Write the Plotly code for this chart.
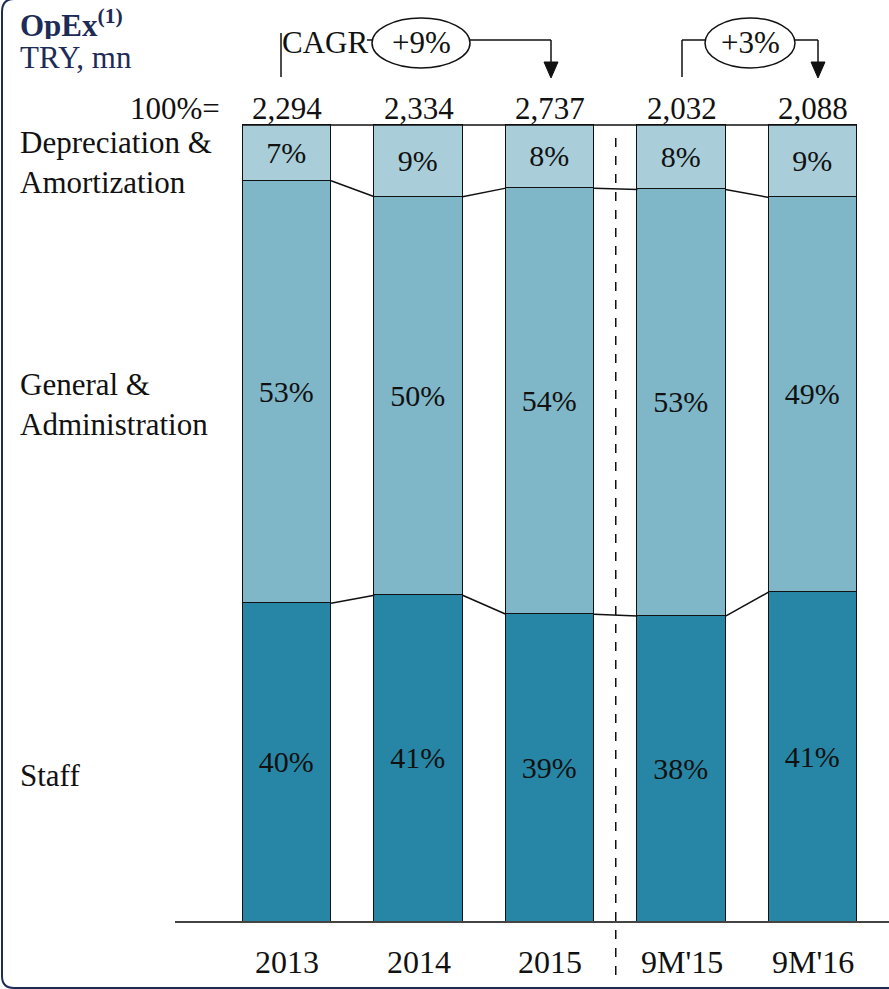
import plotly.graph_objects as go

# ---- data -------------------------------------------------------------
periods = ["2013", "2014", "2015", "9M'15", "9M'16"]
totals = ["2,294", "2,334", "2,737", "2,032", "2,088"]
staff = [40, 41, 39, 38, 41]
general_admin = [53, 50, 54, 53, 49]
dep_amort = [7, 9, 8, 8, 9]
cagr_labels = ["+9%", "+3%"]

# ---- styling ------------------------------------------------------------
W, H = 889, 989
FONT = "Liberation Serif"
NAVY = "#1d2b57"
C_STAFF = "#2786a5"
C_GA = "#7fb7c8"
C_DA = "#a9ced9"
BAR_W = 0.67
FS = 31          # labels
FS_BAR = 30      # values inside the bars

# pixel geometry of the plotting frame
X0_PX, X_STEP = 287.0, 131.5      # centre of first bar, spacing
Y0_PX, Y100_PX = 922.0, 125.0     # baseline and 100% line
ys = (Y0_PX - Y100_PX) / 100.0
x_range = [-X0_PX / X_STEP, (W - X0_PX) / X_STEP]
y_range = [-(H - Y0_PX) / ys, 100 + Y100_PX / ys]


def px(x):
    return x / W


def py(y):
    return 1 - y / H


xs = list(range(len(periods)))

fig = go.Figure()
for name, vals, col in [("Staff", staff, C_STAFF),
                        ("General & Administration", general_admin, C_GA),
                        ("Depreciation & Amortization", dep_amort, C_DA)]:
    fig.add_trace(go.Bar(
        x=xs, y=vals, name=name, width=BAR_W,
        marker=dict(color=col, line=dict(color="#111111", width=1.5)),
        text=[f"{v}%" for v in vals], textposition="inside",
        insidetextanchor="middle", textangle=0,
        textfont=dict(family=FONT, size=FS_BAR, color="#111111"),
        showlegend=False, hoverinfo="skip",
    ))

# connector lines between segment boundaries (normalised shares)
sums = [a + b + c for a, b, c in zip(staff, general_admin, dep_amort)]
b1 = [s / t * 100 for s, t in zip(staff, sums)]
b2 = [(s + g) / t * 100 for s, g, t in zip(staff, general_admin, sums)]
shapes = []
for bound in (b1, b2):
    for i in range(len(xs) - 1):
        shapes.append(dict(type="line", xref="x", yref="y",
                           x0=xs[i] + BAR_W / 2, x1=xs[i + 1] - BAR_W / 2,
                           y0=bound[i], y1=bound[i + 1],
                           line=dict(color="#111111", width=1.5)))

# 100% line across the top of the bars
shapes.append(dict(type="line", xref="x", yref="y",
                   x0=xs[0] - BAR_W / 2, x1=xs[-1] + BAR_W / 2, y0=100, y1=100,
                   line=dict(color="#111111", width=1.5)))
# baseline
shapes.append(dict(type="line", xref="paper", yref="y", x0=px(175), x1=1,
                   y0=0, y1=0, line=dict(color="#444444", width=2)))
# dashed separator between full years and nine-month periods
shapes.append(dict(type="line", xref="x", yref="paper", x0=2.5, x1=2.5,
                   y0=py(975), y1=py(130),
                   line=dict(color="#111111", width=1.5, dash="dash")))

# CAGR brackets
LINE = dict(color="#111111", width=1.5)
ARROW_Y = 40


def bracket(x_start_px, x_end_px, ell_x0, ell_x1, start_top):
    out = []
    out.append(dict(type="line", xref="paper", yref="paper",
                    x0=px(x_start_px), x1=px(x_start_px), y0=py(77), y1=py(start_top), line=LINE))
    out.append(dict(type="line", xref="paper", yref="paper",
                    x0=px(ell_x1), x1=px(x_end_px), y0=py(ARROW_Y), y1=py(ARROW_Y), line=LINE))
    out.append(dict(type="line", xref="paper", yref="paper",
                    x0=px(x_end_px), x1=px(x_end_px), y0=py(ARROW_Y), y1=py(63), line=LINE))
    out.append(dict(type="path", xref="paper", yref="paper",
                    path=f"M {px(x_end_px - 7)},{py(62)} L {px(x_end_px + 7)},{py(62)} L {px(x_end_px)},{py(78)} Z",
                    fillcolor="#111111", line=dict(color="#111111", width=1)))
    out.append(dict(type="circle", xref="paper", yref="paper",
                    x0=px(ell_x0), x1=px(ell_x1), y0=py(68), y1=py(18),
                    fillcolor="white", line=LINE))
    return out


shapes += bracket(281, 551, 372, 470, 33)
shapes.append(dict(type="line", xref="paper", yref="paper",
                   x0=px(367), x1=px(372), y0=py(ARROW_Y), y1=py(ARROW_Y), line=LINE))
shapes += bracket(682, 818, 705, 795, ARROW_Y)
shapes.append(dict(type="line", xref="paper", yref="paper",
                   x0=px(682), x1=px(705), y0=py(ARROW_Y), y1=py(ARROW_Y), line=LINE))

# frame with rounded left corners
shapes.append(dict(type="path", xref="paper", yref="paper",
                   path=(f"M {px(14)},{py(-1)} Q {px(2)},{py(-1)} {px(2)},{py(12)} "
                         f"L {px(2)},{py(976)} Q {px(2)},{py(988)} {px(14)},{py(988)} L {px(900)},{py(988)}"),
                   line=dict(color=NAVY, width=2)))

ann = []


def txt(text, x, y, xref="paper", xanchor="center", color="#111111", size=FS, align="center", height=None):
    a = dict(text=text, x=x, y=y, xref=xref, yref="paper", xanchor=xanchor,
             yanchor="middle", showarrow=False, align=align,
             font=dict(family=FONT, size=size, color=color))
    if height:
        a["height"] = height
    ann.append(a)


txt("<b>OpEx</b><sup><b>(1)</b></sup>", px(18), py(23), xanchor="left", color=NAVY, height=32)
txt("TRY, mn", px(18), py(57), xanchor="left", color=NAVY, height=32)
txt("100%=", px(222), py(108), xanchor="right")
for i, t in enumerate(totals):
    txt(t, xs[i], py(108), xref="x")
for i, p in enumerate(periods):
    txt(p, xs[i], py(962), xref="x", size=32)
txt("Depreciation &<br>Amortization", px(18), py(162), xanchor="left", align="left")
txt("General &<br>Administration", px(18), py(405), xanchor="left", align="left")
txt("Staff", px(18), py(775), xanchor="left", align="left")
txt("CAGR", px(325), py(ARROW_Y + 2))
txt(cagr_labels[0], px(421), py(ARROW_Y + 3))
txt(cagr_labels[1], px(750), py(ARROW_Y + 2))

fig.update_layout(
    width=W, height=H, margin=dict(l=0, r=0, t=0, b=0),
    paper_bgcolor="white", plot_bgcolor="white",
    font=dict(family=FONT, size=FS, color="#111111"),
    barmode="stack", barnorm="percent", bargap=0,
    xaxis=dict(range=x_range, domain=[0, 1], visible=False, fixedrange=True),
    yaxis=dict(range=y_range, domain=[0, 1], visible=False, fixedrange=True),
    shapes=shapes, annotations=ann,
    uniformtext=dict(minsize=20, mode="show"),
)

fig.write_html("out.html")
